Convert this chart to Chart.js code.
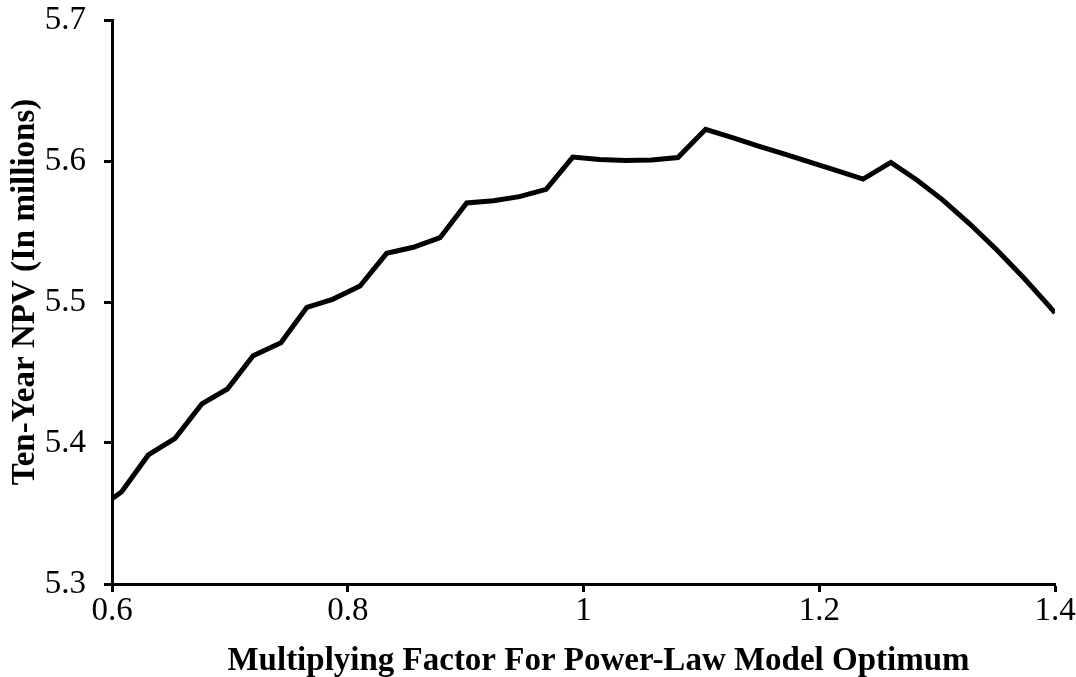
<!DOCTYPE html>
<html>
<head>
<meta charset="utf-8">
<script src="https://cdn.jsdelivr.net/npm/chart.js@4"></script>
<style>
    html, body { margin: 0; padding: 0; background: #fff; }
    #wrap { width: 1076px; height: 677px; }
</style>
</head>
<body>
<div id="wrap"><canvas id="myChart" width="1076" height="677"></canvas></div>
<script>
// multiplying factor (x) and ten-year NPV in millions (y)
var factors = [0.6, 0.6082, 0.6308, 0.6535, 0.6762, 0.6979, 0.7197, 0.7433, 0.7653, 0.7871,
    0.8104, 0.8330, 0.8556, 0.8783, 0.9009, 0.9236, 0.9456, 0.9683, 0.9909, 1.0136,
    1.0357, 1.0577, 1.0801, 1.1036, 1.1257, 1.1478, 1.1707, 1.1928, 1.2149, 1.2372,
    1.2607, 1.2828, 1.3049, 1.3278, 1.3507, 1.3728, 1.3949, 1.4];
var npv = [5.3604, 5.3655, 5.3915, 5.4033, 5.4277, 5.4383, 5.4619, 5.4711, 5.4962, 5.5019,
    5.5113, 5.5345, 5.5388, 5.5456, 5.5702, 5.5718, 5.5747, 5.5799, 5.6028, 5.6011,
    5.6004, 5.6007, 5.6025, 5.6225, 5.6167, 5.6108, 5.6048, 5.5990, 5.5931, 5.5872,
    5.5990, 5.5865, 5.5723, 5.5553, 5.5369, 5.5177, 5.4972, 5.4922];

var xTicks = [0.6, 0.8, 1, 1.2, 1.4];
var xTickLabels = ['0.6', '0.8', '1', '1.2', '1.4'];
var yTicks = [5.3, 5.4, 5.5, 5.6, 5.7];
var yTickLabels = ['5.3', '5.4', '5.5', '5.6', '5.7'];

var xTitle = 'Multiplying Factor For Power-Law Model Optimum';
var yTitle = 'Ten-Year NPV (In millions)';

var points = factors.map(function (f, i) { return { x: f, y: npv[i] }; });

var serif = '"Liberation Serif", "Times New Roman", serif';

function fixedTicks(values) {
    return function (scale) {
        scale.ticks = values.map(function (v) { return { value: v }; });
    };
}

function labelFrom(values, labels) {
    return function (value) {
        var i = values.findIndex(function (v) { return Math.abs(v - value) < 1e-9; });
        return i >= 0 ? labels[i] : '';
    };
}

// axis titles sit a little off the plot centre, so draw them by hand
var axisTitles = {
    id: 'axisTitles',
    afterDraw: function (chart) {
        var c = chart.ctx;
        var area = chart.chartArea;
        c.save();
        c.fillStyle = '#000';
        c.font = 'bold 33px ' + serif;
        c.textAlign = 'center';
        c.textBaseline = 'middle';
        c.fillText(xTitle, (area.left + area.right) / 2 + 15, chart.height - 16);
        c.translate(25, (area.top + area.bottom) / 2 - 10);
        c.rotate(-Math.PI / 2);
        c.fillText(yTitle, 0, 0);
        c.restore();
    }
};

var ctx = document.getElementById('myChart').getContext('2d');

var myChart = new Chart(ctx, {
    type: 'line',
    data: {
        datasets: [{
            data: points,
            borderColor: '#000',
            borderWidth: 5,
            borderJoinStyle: 'miter',
            pointRadius: 0,
            tension: 0,
            fill: false
        }]
    },
    plugins: [axisTitles],
    options: {
        responsive: false,
        animation: false,
        layout: { padding: { top: 20, right: 21, left: 0, bottom: 0 } },
        plugins: {
            legend: { display: false },
            tooltip: { enabled: false }
        },
        scales: {
            x: {
                type: 'linear',
                min: 0.6,
                max: 1.4,
                afterBuildTicks: fixedTicks(xTicks),
                afterFit: function (scale) {
                    // fixed axis band; the end labels may hang past the plot
                    scale.height = 93;
                    scale.paddingLeft = 0;
                    scale.paddingRight = 0;
                },
                grid: {
                    drawOnChartArea: false,
                    drawTicks: true,
                    tickLength: 8,
                    tickColor: '#000',
                    tickWidth: 3
                },
                border: { display: true, color: '#000', width: 3 },
                ticks: {
                    color: '#000',
                    padding: 0,
                    maxRotation: 0,
                    font: { family: serif, size: 33 },
                    callback: labelFrom(xTicks, xTickLabels)
                }
            },
            y: {
                min: 5.3,
                max: 5.7,
                afterBuildTicks: fixedTicks(yTicks),
                afterFit: function (scale) {
                    scale.width = 112;
                    scale.paddingTop = 0;
                    scale.paddingBottom = 0;
                },
                grid: {
                    drawOnChartArea: false,
                    drawTicks: true,
                    tickLength: 8,
                    tickColor: '#000',
                    tickWidth: 3
                },
                border: { display: true, color: '#000', width: 3 },
                ticks: {
                    color: '#000',
                    padding: 18,
                    font: { family: serif, size: 33 },
                    callback: labelFrom(yTicks, yTickLabels)
                }
            }
        }
    }
});
</script>
</body>
</html>
